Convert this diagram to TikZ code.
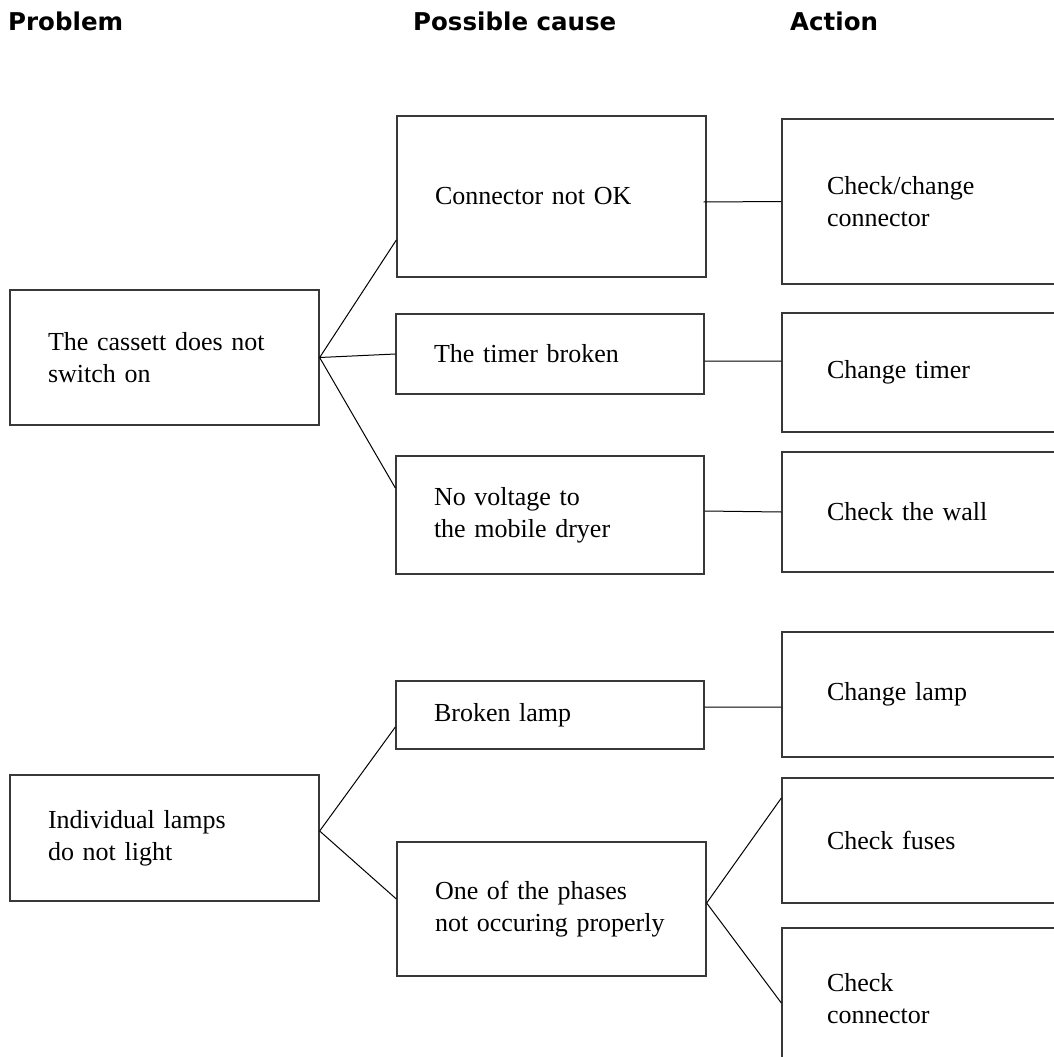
\documentclass[tikz,border=0pt]{standalone}
\usepackage{fontspec}
\setmainfont{Liberation Serif}
\newfontfamily\headfont{DejaVu Sans}
\definecolor{boxgray}{gray}{0.22}
\begin{document}
\begin{tikzpicture}[x=1pt,y=-1pt]
    \tikzstyle{box}=[draw=boxgray, line width=1.3pt, inner xsep=38pt, inner ysep=0pt, align=left, font=\fontsize{26}{32}\selectfont];
    \tikzstyle{act}=[box, inner xsep=45pt, text width=250pt];
    \tikzstyle{head}=[anchor=base west, inner sep=0pt, font=\headfont\bfseries\fontsize{24.5}{28}\selectfont];
    \useasboundingbox (0,0) rectangle (1054,1057);
    \clip (0,0) rectangle (1054,1057);
    % column titles
    \node[head] (hprob) at (8,31) {Problem};
    \node[head] (hcause) at (413,31) {Possible cause};
    \node[head] (hact) at (790,31) {Action};
    % problems
    \node[box, text width=233pt, minimum height=135pt] (cassett) at (164.5,357.5) {The cassett does not\\switch on};
    \node[box, text width=233pt, minimum height=126pt] (lamps) at (164.5,838) {Individual lamps\\do not light};
    % causes
    \node[box, text width=233pt, minimum height=161pt] (conn) at (551.5,196.5) {Connector not OK};
    \node[box, text width=232pt, minimum height=80pt] (timer) at (550,354) {The timer broken};
    \node[box, text width=232pt, minimum height=118pt] (volt) at (550,515) {No voltage to\\the mobile dryer};
    \node[box, text width=232pt, minimum height=68pt] (lamp) at (550,715) {Broken lamp};
    \node[box, text width=233pt, minimum height=134pt] (phase) at (551.5,909) {One of the phases\\\mbox{not occuring properly}};
    % actions
    \node[act, minimum height=165pt] (chconn) at (952,201.5) {Check/change\\connector};
    \node[act, minimum height=119pt] (chtimer) at (952,372.5) {Change timer};
    \node[act, minimum height=120pt] (wall) at (952,512) {Check the wall};
    \node[act, minimum height=125pt] (chlamp) at (952,694.5) {Change lamp};
    \node[act, minimum height=125pt] (fuses) at (952,840.5) {Check fuses};
    \node[act, minimum height=142pt] (chconn2) at (952,999) {Check\\connector};
    \draw[line width=1pt] (cassett.east) -- ([yshift=-43.5pt]conn.west)
    (cassett.east) -- (timer.west)
    (cassett.east) -- ([yshift=27pt]volt.west)
    ([xshift=-3pt,yshift=-5.5pt]conn.east) -- (chconn.west)
    ([yshift=-7pt]timer.east) -- ([yshift=11.5pt]chtimer.west)
    ([yshift=4pt]volt.east) -- (wall.west)
    ([yshift=7pt]lamps.east) -- ([yshift=-12pt]lamp.west)
    ([yshift=7pt]lamps.east) -- ([yshift=10pt]phase.west)
    ([yshift=8pt]lamp.east) -- ([yshift=-12.5pt]chlamp.west)
    ([yshift=6pt]phase.east) -- ([yshift=42.5pt]fuses.west)
    ([yshift=6pt]phase.east) -- ([yshift=-4pt]chconn2.west);
  \end{tikzpicture}
\end{document}
